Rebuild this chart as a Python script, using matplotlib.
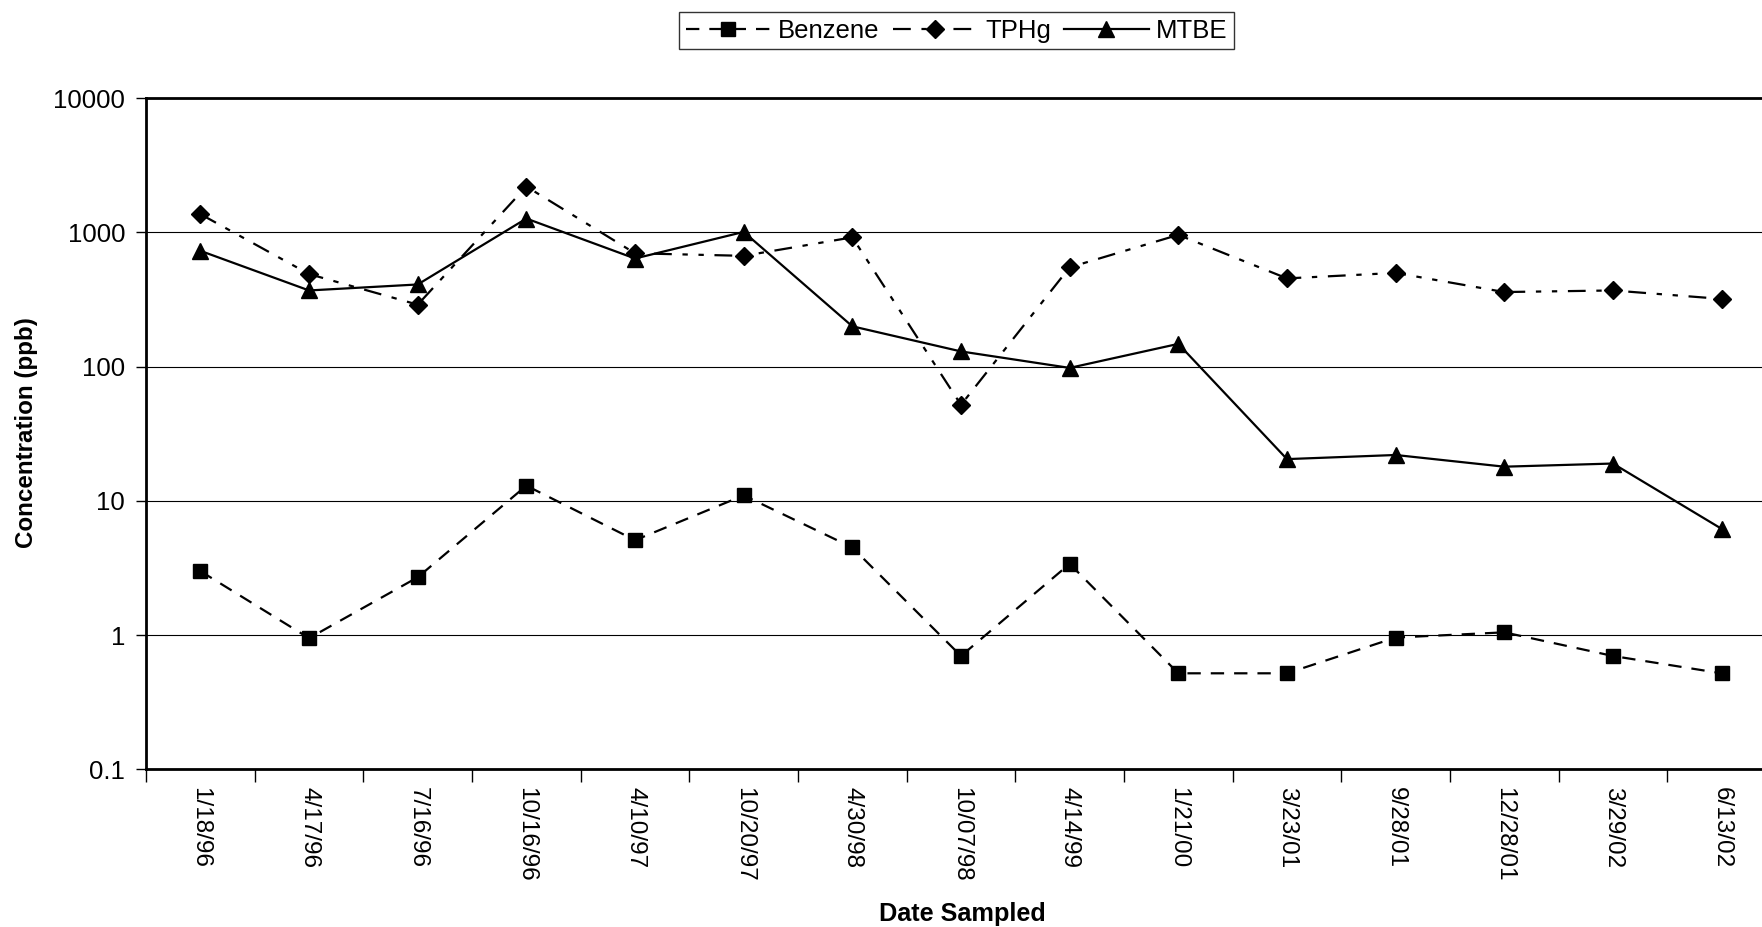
import numpy as np
import matplotlib
matplotlib.use('Agg')
import matplotlib.pyplot as plt
from matplotlib.ticker import FixedLocator, NullFormatter

plt.rcParams['font.family'] = ['Liberation Sans', 'DejaVu Sans']

#### Data ####

dates = ['1/18/96', '4/17/96', '7/16/96', '10/16/96', '4/10/97', '10/20/97', '4/30/98',
         '10/07/98', '4/14/99', '1/21/00', '3/23/01', '9/28/01', '12/28/01', '3/29/02', '6/13/02']
benzene = [3.0, 0.95, 2.7, 13, 5.1, 11, 4.5, 0.7, 3.4, 0.52, 0.52, 0.96, 1.05, 0.7, 0.52]
tphg = [1370, 490, 290, 2200, 700, 670, 920, 52, 550, 960, 455, 500, 360, 370, 320]
mtbe = [730, 370, 410, 1270, 640, 1010, 200, 130, 98, 148, 20.5, 22, 18, 19, 6.2]
y_ticks = [0.1, 1, 10, 100, 1000, 10000]
y_labels = ['0.1', '1', '10', '100', '1000', '10000']

#### Figure ####

fig = plt.figure(figsize=(17.62, 9.27), dpi=100)
ax = fig.add_axes([0.0829, 0.170, 0.925, 0.724])

x = np.arange(len(dates))

ax.plot(x, benzene, color='black', lw=1.6, linestyle=(0, (6, 4.5)),
        marker='s', markersize=10.5, label='Benzene')
ax.plot(x, tphg, color='black', lw=1.6, linestyle=(0, (8, 4.8, 2.4, 4.8, 2.4, 4.8)),
        marker='D', markersize=9.5, label='TPHg')
ax.plot(x, mtbe, color='black', lw=1.6, linestyle='-',
        marker='^', markersize=11.5, label='MTBE')

ax.set_yscale('log')
ax.set_ylim(0.1, 10000)
ax.set_yticks(y_ticks)
ax.set_yticklabels(y_labels)
ax.yaxis.set_minor_locator(FixedLocator([]))
ax.yaxis.grid(True, which='major', color='black', lw=0.8)
ax.set_axisbelow(True)

ax.set_xlim(-0.5, len(dates) - 0.5)
ax.set_xticks(x)
ax.set_xticklabels(dates, rotation=270, fontsize=17.5)
ax.xaxis.set_minor_locator(FixedLocator(np.arange(len(dates) + 1) - 0.5))
ax.xaxis.set_minor_formatter(NullFormatter())
ax.tick_params(axis='x', which='major', length=0, pad=13)
ax.tick_params(axis='x', which='minor', length=9, width=1, direction='out')
ax.tick_params(axis='y', which='major', length=7, width=1, direction='out', pad=8, labelsize=18.5)

for s in ['left', 'bottom', 'top']:
	ax.spines[s].set_linewidth(2)

fig.text(0.0153, 0.533, 'Concentration (ppb)', rotation=90, ha='center', va='center',
         fontsize=17.4, fontweight='bold')
fig.text(0.546, 0.014, 'Date Sampled', ha='center', va='center',
         fontsize=18.2, fontweight='bold')

leg = fig.legend(loc='center', bbox_to_anchor=(0.543, 0.967), ncol=3, fontsize=18.5,
                 frameon=True, fancybox=False, edgecolor='black', handlelength=3.3,
                 columnspacing=0.5, handletextpad=0.3, borderpad=0.25)
leg.get_frame().set_linewidth(1.0)

fig.savefig('out.png', dpi=100)
